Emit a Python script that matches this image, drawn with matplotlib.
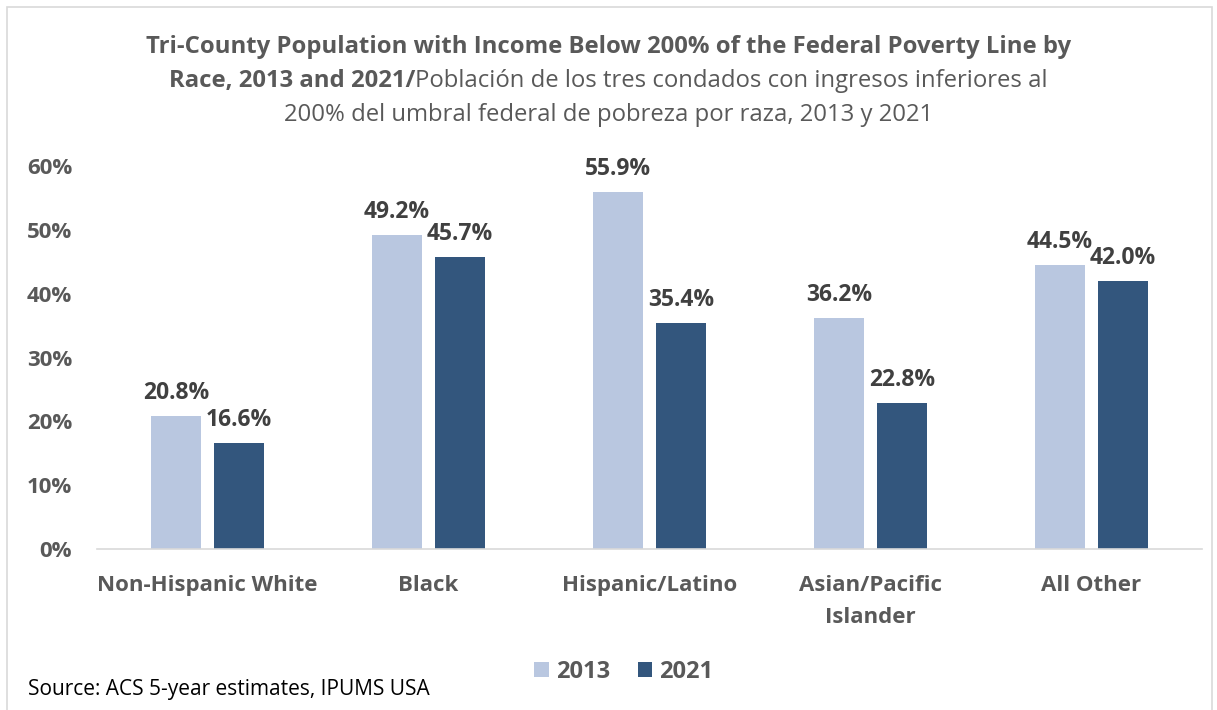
import matplotlib
matplotlib.use("Agg")
import matplotlib.pyplot as plt
import numpy as np
from matplotlib.patches import Rectangle

categories = ["Non-Hispanic White", "Black", "Hispanic/Latino", "Asian/Pacific\nIslander", "All Other"]
years = ["2013", "2021"]
vals_2013 = [20.8, 49.2, 55.9, 36.2, 44.5]
vals_2021 = [16.6, 45.7, 35.4, 22.8, 42.0]
yticks = [0, 10, 20, 30, 40, 50, 60]

c13 = "#B9C7E0"
c21 = "#33567D"
txt = "#595959"
FONT = "Open Sans"

plt.rcParams["font.family"] = [FONT, "DejaVu Sans"]

fig = plt.figure(figsize=(12.17, 7.10), dpi=100)
W, H = 1217, 710
# axes: x 97..1202 px, y 166..549 px (0..60)
ax = fig.add_axes([97 / W, 1 - 549 / H, 1105 / W, 383 / H])

x = np.arange(len(categories))
bw = 0.226
off = 0.142
b1 = ax.bar(x - off, vals_2013, bw, color=c13, label=years[0])
b2 = ax.bar(x + off, vals_2021, bw, color=c21, label=years[1])

for bars, vals in ((b1, vals_2013), (b2, vals_2021)):
    for r, v in zip(bars, vals):
        ax.annotate(f"{v:.1f}%", (r.get_x() + r.get_width() / 2, v),
                    xytext=(0, 8), textcoords="offset points",
                    ha="center", va="bottom", fontsize=16.5,
                    fontweight="bold", color="#404040")

ax.set_xlim(-0.5, len(categories) - 0.5)
ax.set_ylim(0, 60)
ax.set_yticks(yticks)
ax.set_yticklabels([f"{t}%" for t in yticks], fontsize=16, fontweight="bold", color=txt)
ax.set_xticks(x)
ax.set_xticklabels(categories, fontsize=16, fontweight="bold", color=txt, linespacing=1.65)
ax.tick_params(axis="both", length=0)
ax.tick_params(axis="y", pad=18)
ax.tick_params(axis="x", pad=19)
for s in ["top", "right", "left"]:
    ax.spines[s].set_visible(False)
ax.spines["bottom"].set_color("#D9D9D9")
ax.spines["bottom"].set_linewidth(1.2)

# outer frame
fig.patches.append(Rectangle((7 / W, -0.01), 1205 / W, 1 - 7 / H + 0.01, transform=fig.transFigure,
                             fill=False, edgecolor="#D9D9D9", linewidth=1.2))

# title
tsize = 17.2
fig.text(0.5, 1 - 47 / H, "Tri-County Population with Income Below 200% of the Federal Poverty Line by",
         ha="center", va="center", fontsize=tsize, fontweight="bold", color=txt)
fig.text(0.5, 1 - 115 / H, "200% del umbral federal de pobreza por raza, 2013 y 2021",
         ha="center", va="center", fontsize=tsize, color=txt)
p1 = fig.text(0, 1 - 81 / H, "Race, 2013 and 2021/", ha="left", va="center",
              fontsize=tsize, fontweight="bold", color=txt)
p2 = fig.text(0, 1 - 81 / H, "Población de los tres condados con ingresos inferiores al",
              ha="left", va="center", fontsize=tsize, color=txt)
fig.canvas.draw()
r = fig.canvas.get_renderer()
w1 = p1.get_window_extent(r).width
w2 = p2.get_window_extent(r).width
start = (W - (w1 + w2)) / 2
p1.set_x(start / W)
p2.set_x((start + w1) / W)

fig.legend(handles=[b1, b2], labels=years, loc="center", bbox_to_anchor=(624 / W, 1 - 672 / H),
           ncol=2, frameon=False, prop={"family": [FONT, "DejaVu Sans"], "size": 17, "weight": "bold"},
           handlelength=0.6, handleheight=0.6, handletextpad=0.3, columnspacing=1.2,
           labelcolor=txt)

fig.text(28 / W, 1 - 690 / H, "Source: ACS 5-year estimates, IPUMS USA", ha="left", va="center",
         fontsize=15, color="#000000")

fig.savefig("out.png", dpi=100)
